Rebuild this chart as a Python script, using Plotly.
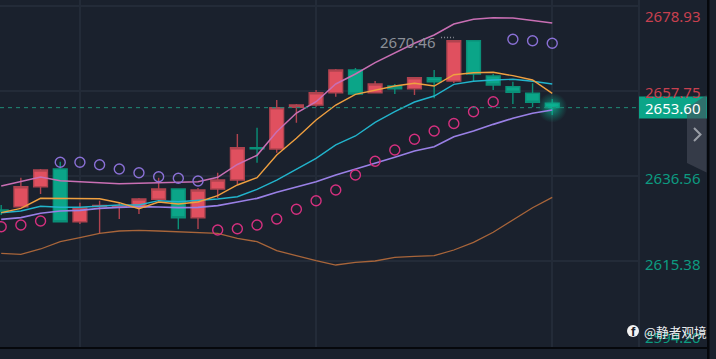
import plotly.graph_objects as go

W, H = 716, 359
BG = "#1a212d"
GRID = "#232b38"
RED = "#e0505f"
TEAL = "#0ba588"

opens = [2628.10, 2628.92, 2633.90, 2638.32, 2625.18, 2628.97, 2628.80, 2628.77, 2630.76, 2633.33,
         2626.18, 2633.33, 2635.57, 2643.60, 2643.30, 2653.69, 2654.26, 2657.33, 2662.99, 2657.33,
         2659.00, 2658.33, 2661.07, 2660.24, 2670.29, 2661.49, 2658.82, 2657.18, 2654.69]
highs = [2629.34, 2636.15, 2638.32, 2640.13, 2629.92, 2630.42, 2629.84, 2631.09, 2636.15, 2633.33,
         2633.58, 2637.39, 2647.04, 2648.61, 2655.51, 2654.51, 2658.00, 2663.24, 2663.48, 2660.24,
         2659.50, 2661.24, 2662.99, 2670.46, 2670.46, 2661.99, 2660.07, 2659.67, 2655.76]
lows = [2626.85, 2628.85, 2632.09, 2625.18, 2624.61, 2622.37, 2625.86, 2627.10, 2630.76, 2623.29,
        2623.36, 2631.09, 2634.58, 2639.89, 2642.38, 2649.85, 2653.84, 2656.33, 2657.01, 2657.33,
        2657.01, 2656.76, 2655.93, 2659.75, 2660.07, 2658.00, 2654.51, 2653.69, 2651.77]
closes = [2627.85, 2633.90, 2638.07, 2625.18, 2628.60, 2629.22, 2629.04, 2630.84, 2633.33, 2626.18,
          2633.08, 2635.57, 2643.62, 2643.35, 2653.59, 2654.26, 2657.33, 2662.99, 2657.01, 2659.50,
          2658.33, 2661.07, 2660.07, 2670.29, 2661.99, 2659.25, 2657.43, 2654.94, 2653.60]

boll_upper = [2634.08, 2635.15, 2636.32, 2635.40, 2635.15, 2634.90, 2634.65, 2634.75, 2634.90, 2635.00,
              2635.15, 2636.25, 2639.44, 2641.73, 2647.61, 2652.27, 2655.09, 2659.50, 2661.99, 2664.81,
              2667.30, 2669.64, 2671.71, 2674.45, 2675.62, 2676.02, 2675.94, 2675.27, 2674.70]
ma_orange = [2627.43, 2628.52, 2631.01, 2631.01, 2630.91, 2630.91, 2629.92, 2628.42, 2630.09, 2629.59,
             2630.09, 2631.66, 2634.33, 2636.15, 2641.80, 2645.97, 2650.53, 2654.26, 2656.93, 2658.00,
             2659.00, 2659.67, 2659.00, 2661.81, 2662.31, 2662.41, 2661.57, 2660.49, 2657.18]
ma_cyan = [2627.43, 2627.85, 2629.02, 2628.77, 2628.77, 2629.09, 2629.34, 2629.34, 2630.42, 2630.17,
           2630.52, 2630.84, 2631.41, 2633.26, 2635.57, 2638.24, 2640.98, 2644.30, 2646.54, 2649.95,
           2652.59, 2655.01, 2656.51, 2659.42, 2660.17, 2660.49, 2660.67, 2660.17, 2659.50]
ma_purple = [2625.78, 2626.18, 2627.28, 2627.85, 2628.02, 2628.52, 2628.77, 2628.92, 2628.85, 2628.67,
             2628.77, 2629.17, 2630.09, 2631.01, 2632.51, 2633.75, 2635.15, 2636.82, 2638.24, 2639.74,
             2641.23, 2642.80, 2643.87, 2646.36, 2647.78, 2649.45, 2650.95, 2652.20, 2653.02]
boll_lower = [2617.31, 2617.06, 2618.38, 2620.20, 2621.19, 2622.29, 2622.86, 2623.04, 2622.86, 2622.62,
              2622.54, 2622.29, 2621.05, 2620.20, 2617.96, 2616.63, 2615.46, 2614.39, 2615.06, 2615.39,
              2616.31, 2616.56, 2616.71, 2618.13, 2620.05, 2622.54, 2625.61, 2628.67, 2631.26]

sar_high_idx = [3, 4, 5, 6, 7, 8, 9, 10, 26, 27, 28]
sar_high = [2639.98, 2639.98, 2639.39, 2638.32, 2637.39, 2636.40, 2636.00, 2635.32, 2670.64, 2670.29, 2669.64]
sar_low_idx = [0, 1, 2, 11, 12, 13, 14, 15, 16, 17, 18, 19, 20, 21, 22, 23, 24, 25]
sar_low = [2623.94, 2624.36, 2625.36, 2623.11, 2623.44, 2624.36, 2625.86, 2628.27, 2630.42, 2633.08,
           2636.82, 2640.23, 2643.05, 2645.72, 2647.78, 2649.65, 2652.59, 2655.09]

y_ticks = [2678.93, 2657.75, 2636.56, 2615.38, 2594.20]
y_tick_labels = ["2678.93", "2657.75", "2636.56", "2615.38", "2594.20"]
y_tick_colors = ["#c8404f", "#c8404f", "#0d9a80", "#0d9a80", "#0d9a80"]
x_grid = [4, 16, 28]
last_price = 2653.60
high_label = 2670.46

idx = list(range(len(opens)))

fig = go.Figure()
fig.add_trace(go.Candlestick(
    x=idx, open=opens, high=highs, low=lows, close=closes,
    increasing=dict(line=dict(color="#b0434f", width=1.4), fillcolor=RED),
    decreasing=dict(line=dict(color="#0a9078", width=1.4), fillcolor=TEAL),
    whiskerwidth=0, showlegend=False,
))
# glow at the last candle (for a radial gradient, gradient.color is the centre)
fig.add_trace(go.Scatter(
    x=[idx[-1]], y=[last_price], mode="markers", hoverinfo="skip", showlegend=False,
    marker=dict(size=30, color="rgba(11,165,136,0)",
                gradient=dict(type="radial", color="rgba(11,190,155,0.75)"), line=dict(width=0)),
))
for vals, col, w in [(boll_lower, "#a8653a", 1.3), (boll_upper, "#c96fb4", 1.5),
                     (ma_purple, "#9a80e6", 1.7), (ma_cyan, "#22b4cc", 1.4),
                     (ma_orange, "#f0a040", 1.4)]:
    fig.add_trace(go.Scatter(x=idx, y=vals, mode="lines", line=dict(color=col, width=w),
                             showlegend=False))
fig.add_trace(go.Scatter(x=sar_high_idx, y=sar_high, mode="markers", showlegend=False,
                         marker=dict(symbol="circle-open", size=10, color="#8a70d6", line=dict(width=1.4))))
fig.add_trace(go.Scatter(x=sar_low_idx, y=sar_low, mode="markers", showlegend=False,
                         marker=dict(symbol="circle-open", size=10, color="#d5307f", line=dict(width=1.4))))

PX = 19.68
X0 = 1.2
x_range = [(0 - X0) / PX, (639 - X0) / PX]
y_top = 2680.43
y_bot = 2680.43 - 347 * 0.2492

def fx(p):
    return p / W
def fy(p):
    return 1 - p / H

shapes = [
    dict(type="line", xref="paper", yref="y", x0=0, x1=fx(639), y0=last_price, y1=last_price,
         line=dict(color="#1f8c78", width=1, dash="4px,4px"), layer="above"),
    dict(type="line", xref="x", yref="y", x0=22.35, x1=23.0, y0=high_label + 0.6, y1=high_label + 0.6,
         line=dict(color="#8b8f97", width=1.5, dash="1px,2px")),
    dict(type="line", xref="paper", yref="paper", x0=fx(639), x1=fx(639), y0=fy(0), y1=fy(347),
         line=dict(color=GRID, width=2), layer="below"),
    dict(type="rect", xref="paper", yref="paper", x0=0, x1=fx(707), y0=fy(349), y1=fy(347),
         fillcolor="#06080c", line=dict(width=0)),
    dict(type="rect", xref="paper", yref="paper", x0=fx(707), x1=fx(709.5), y0=0, y1=1,
         fillcolor="#06080c", line=dict(width=0)),
    dict(type="rect", xref="paper", yref="paper", x0=fx(639), x1=fx(707), y0=fy(118.5), y1=fy(96.5),
         fillcolor=TEAL, line=dict(width=0), layer="above"),
]

label_shift = {0: -10, 1: -1, 2: -2, 3: -3, 4: 9}
annotations = []
for i, (v, t, c) in enumerate(zip(y_ticks, y_tick_labels, y_tick_colors)):
    annotations.append(dict(xref="paper", yref="y", x=fx(642.5), y=v, yshift=label_shift[i], text=t, showarrow=False,
                            xanchor="left", yanchor="middle", align="left",
                            font=dict(family="Noto Sans", size=15, color=c)))
annotations.append(dict(xref="paper", yref="y", x=fx(642.5), y=last_price, text=f"{last_price:.2f}",
                        showarrow=False, xanchor="left", yanchor="middle",
                        font=dict(family="Noto Sans", size=15, color="#ffffff")))
annotations.append(dict(xref="x", yref="y", x=23, y=high_label, xshift=-16, yshift=-2, text=f"{high_label:.2f}",
                        showarrow=False, xanchor="right", yanchor="middle",
                        font=dict(family="Noto Sans", size=15, color="#8b8f97")))
annotations.append(dict(xref="paper", yref="paper", x=fx(633), y=fy(331), text="<b>f</b>", showarrow=False,
                        xanchor="center", yanchor="middle",
                        font=dict(family="Liberation Sans", size=13, color="#1a212d")))
annotations.append(dict(xref="paper", yref="paper", x=fx(642), y=fy(331), text="@静者观境", showarrow=False,
                        xanchor="left", yanchor="middle",
                        font=dict(family="Noto Sans CJK SC", size=12.7, color="#eceef0")))

tab = dict(type="path", xref="paper", yref="paper", layer="above",
           path=f"M {fx(687)} {fy(108)} L {fx(706.5)} {fy(95)} L {fx(706.5)} {fy(172.5)} L {fx(687)} {fy(163)} Z",
           fillcolor="rgba(72,76,90,0.6)", line=dict(width=0))
chev = dict(type="path", xref="paper", yref="paper", layer="above",
            path=f"M {fx(694)} {fy(128)} L {fx(700.5)} {fy(134.5)} L {fx(694)} {fy(141)}",
            line=dict(color="#9a9ea6", width=2))
logo = dict(type="circle", xref="paper", yref="paper", layer="above",
            x0=fx(627), x1=fx(639), y0=fy(337), y1=fy(325), fillcolor="#f2f2f2", line=dict(width=0))
shapes += [tab, chev, logo]

fig.update_layout(
    width=W, height=H, margin=dict(l=0, r=0, t=0, b=0),
    paper_bgcolor=BG, plot_bgcolor=BG, showlegend=False, boxgap=0.3, boxgroupgap=0,
    shapes=shapes, annotations=annotations,
    xaxis=dict(domain=[0, 639 / W], range=x_range, tickmode="array", tickvals=x_grid,
               showticklabels=False, ticks="", showgrid=True, gridcolor=GRID, gridwidth=1.5,
               zeroline=False, rangeslider=dict(visible=False), fixedrange=True),
    yaxis=dict(domain=[1 - 347 / H, 1], range=[y_bot, y_top], tickmode="array", tickvals=y_ticks,
               showticklabels=False, ticks="", showgrid=True, gridcolor=GRID, gridwidth=1.5,
               zeroline=False, fixedrange=True),
)
fig.write_html("out.html", config=dict(displayModeBar=False),
               post_script="document.body.style.margin='0';document.body.style.overflow='hidden';")
